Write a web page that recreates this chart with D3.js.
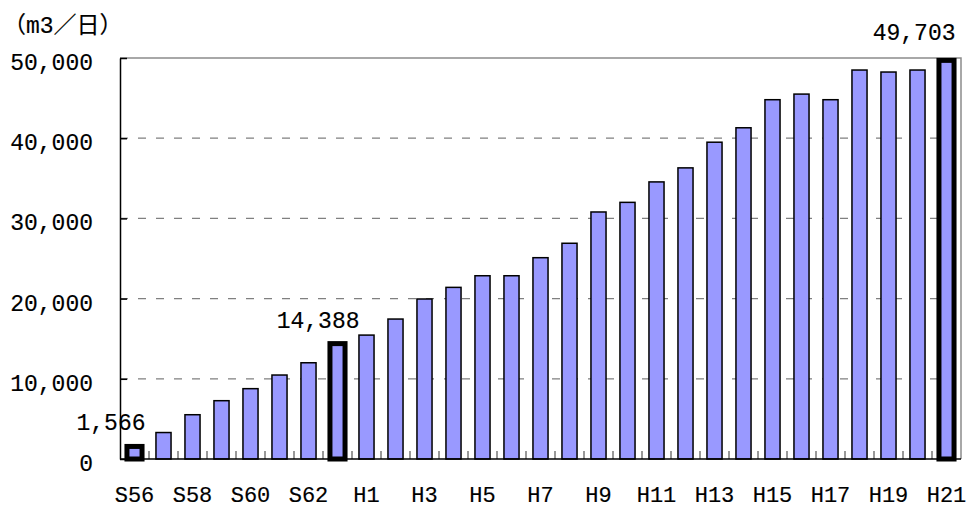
<!DOCTYPE html>
<html>
<head>
<meta charset="utf-8">
<script src="https://cdn.jsdelivr.net/npm/d3@7/dist/d3.min.js"></script>
<style>
body{margin:0;background:#fff;}
svg text{font-family:"Liberation Mono","Noto Sans CJK JP",monospace;fill:#000;stroke:#000;stroke-width:0.15px;}
</style>
</head>
<body>
<div id="chart"></div>
<script>
var w = 969;
var h = 509;

// years: Showa 56..63, Heisei 1..21
var years = ["S56","S57","S58","S59","S60","S61","S62","S63",
  "H1","H2","H3","H4","H5","H6","H7","H8","H9","H10",
  "H11","H12","H13","H14","H15","H16","H17","H18","H19","H20","H21"];
var volume = [1566,3300,5520,7270,8770,10470,12000,14388,
  15450,17450,19950,21400,22850,22850,25100,26900,30800,32000,
  34550,36300,39500,41300,44800,45500,44800,48500,48250,48500,49703];
var yTicks = [0,10000,20000,30000,40000,50000];
var highlighted = ["S56","S63","H21"];
var labelDx = {"S56":11,"S63":22,"H21":9};
var labelDy = {"S56":-16,"S63":-16,"H21":-20};

var margin = {left:120, right:8, top:58, bottom:50};

var xScale = d3.scaleBand()
  .domain(years)
  .range([margin.left, w - margin.right])
  .paddingInner(0.48)
  .paddingOuter(0.24);

var slot = d3.scaleBand().domain(years).range([margin.left, w - margin.right]);

var yScale = d3.scaleLinear()
  .domain([0, 50000])
  .range([h - margin.bottom, margin.top]);

var svg = d3.select("#chart").append("svg")
  .attr("width", w)
  .attr("height", h);

var x0 = margin.left, x1 = w - margin.right;
var y0 = yScale(0), y1 = yScale(50000);

// dashed gridlines
svg.selectAll(".grid")
  .data(yTicks.filter(function(d){ return d > 0 && d < 50000; }))
  .enter().append("line")
  .attr("class","grid")
  .attr("x1", x0).attr("x2", x1)
  .attr("y1", function(d){ return yScale(d); })
  .attr("y2", function(d){ return yScale(d); })
  .attr("stroke","#808080")
  .attr("stroke-width",1.2)
  .attr("stroke-dasharray","8,10");

// top and right border
svg.append("path")
  .attr("d","M"+x0+","+y1+"H"+x1+"V"+y0)
  .attr("fill","none")
  .attr("stroke","#8c8c8c")
  .attr("stroke-width",1.5);

// x tick marks (inside, between categories)
svg.selectAll(".xtick")
  .data(years.slice(1))
  .enter().append("line")
  .attr("class","xtick")
  .attr("x1", function(d){ return slot(d); })
  .attr("x2", function(d){ return slot(d); })
  .attr("y1", y0).attr("y2", y0 - 8)
  .attr("stroke","#555")
  .attr("stroke-width",1.2);

// bars
svg.selectAll(".bar")
  .data(years)
  .enter().append("rect")
  .attr("class","bar")
  .attr("x", function(d){ return xScale(d); })
  .attr("width", xScale.bandwidth())
  .attr("y", function(d,i){ return yScale(volume[i]); })
  .attr("height", function(d,i){ return y0 - yScale(volume[i]); })
  .attr("fill","#9999ff")
  .attr("stroke","#000")
  .attr("stroke-width", function(d){ return highlighted.indexOf(d) >= 0 ? 5 : 1.5; });

// y axis
var yAxis = d3.axisLeft(yScale)
  .tickValues(yTicks)
  .tickSizeInner(-7)
  .tickSizeOuter(0)
  .tickPadding(27)
  .tickFormat(d3.format(","));
var gy = svg.append("g")
  .attr("transform","translate("+x0+",0)")
  .call(yAxis);
gy.select(".domain").attr("stroke","#000").attr("stroke-width",1.5);
gy.selectAll(".tick line").attr("stroke","#000").attr("stroke-width",1.5);
gy.selectAll(".tick text")
  .style("font-size","23px")
  .attr("dy","0.5em");

// x axis line
svg.append("line")
  .attr("x1", x0).attr("x2", x1)
  .attr("y1", y0).attr("y2", y0)
  .attr("stroke","#000")
  .attr("stroke-width",1.5);

// x labels (every other year)
svg.selectAll(".xlab")
  .data(years.filter(function(d,i){ return i % 2 === 0; }))
  .enter().append("text")
  .attr("class","xlab")
  .attr("x", function(d){ return xScale(d) + xScale.bandwidth()/2; })
  .attr("y", 502)
  .attr("text-anchor","middle")
  .style("font-size","22px")
  .text(function(d){ return d; });

// value labels for highlighted years
svg.selectAll(".vlab")
  .data(highlighted)
  .enter().append("text")
  .attr("class","vlab")
  .attr("x", function(d){ return xScale(d) + xScale.bandwidth()/2 + labelDx[d]; })
  .attr("y", function(d){ return yScale(volume[years.indexOf(d)]) + labelDy[d]; })
  .attr("text-anchor","end")
  .style("font-size","23px")
  .text(function(d){ return d3.format(",")(volume[years.indexOf(d)]); });

// unit label
svg.append("text")
  .attr("x", 3)
  .attr("y", 33)
  .style("font-size","23px")
  .text("（m3／日）");
</script>
</body>
</html>
